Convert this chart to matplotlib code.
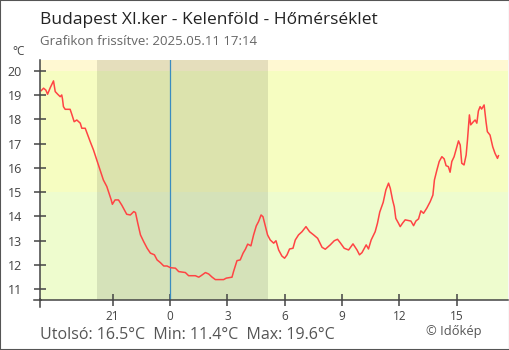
import numpy as np
import matplotlib
matplotlib.use('Agg')
import matplotlib.pyplot as plt
from matplotlib.patches import Rectangle
from matplotlib.lines import Line2D

plt.rcParams['font.family'] = ['Open Sans', 'DejaVu Sans']

# Idő (óra, éjfélhez képest) és hőmérséklet (°C)
hours = [-6.74, -6.62, -6.50, -6.41, -6.27, -6.10, -6.01, -5.88, -5.75, -5.67,
         -5.63, -5.58, -5.49, -5.23, -5.14, -5.02, -4.88, -4.70, -4.62, -4.44,
         -4.31, -4.18, -4.01, -3.84, -3.66, -3.49, -3.31, -3.19, -3.08, -3.02,
         -2.88, -2.70, -2.53, -2.39, -2.27, -2.08, -1.90, -1.81, -1.69, -1.55,
         -1.38, -1.20, -1.03, -0.82, -0.68, -0.51, -0.33, -0.16, 0.02, 0.28,
         0.45, 0.80, 0.97, 1.32, 1.50, 1.62, 1.85, 2.02, 2.20, 2.37,
         2.80, 2.94, 3.24, 3.32, 3.50, 3.67, 3.82, 3.94, 4.06, 4.23,
         4.37, 4.51, 4.63, 4.76, 4.86, 4.98, 5.10, 5.24, 5.42, 5.54,
         5.68, 5.85, 5.99, 6.12, 6.25, 6.43, 6.55, 6.72, 6.90, 7.11,
         7.30, 7.51, 7.72, 7.95, 8.12, 8.38, 8.59, 8.76, 8.90, 9.11,
         9.34, 9.57, 9.78, 9.91, 10.04, 10.26, 10.38, 10.52, 10.73, 10.85,
         10.97, 11.15, 11.29, 11.43, 11.52, 11.64, 11.73, 11.81, 11.95, 12.04,
         12.16, 12.30, 12.47, 12.60, 12.74, 12.86, 13.00, 13.12, 13.26, 13.43,
         13.61, 13.75, 13.83, 13.96, 14.08, 14.22, 14.34, 14.44, 14.56, 14.65,
         14.74, 14.86, 14.96, 15.09, 15.18, 15.26, 15.38, 15.49, 15.56, 15.66,
         15.73, 15.87, 15.96, 16.05, 16.13, 16.22, 16.30, 16.43, 16.53, 16.60,
         16.74, 16.88, 17.00, 17.13, 17.18]
temps = [19.18, 19.28, 19.20, 19.03, 19.30, 19.58, 19.14, 19.03, 18.93, 19.00,
         18.84, 18.52, 18.41, 18.41, 18.20, 17.90, 17.97, 17.84, 17.63, 17.63,
         17.35, 17.08, 16.74, 16.33, 15.91, 15.50, 15.23, 14.95, 14.68, 14.50,
         14.68, 14.68, 14.47, 14.27, 14.09, 14.06, 14.20, 14.16, 13.72, 13.24,
         12.96, 12.69, 12.49, 12.42, 12.21, 12.10, 11.96, 11.96, 11.89, 11.87,
         11.73, 11.69, 11.56, 11.56, 11.50, 11.56, 11.69, 11.63, 11.50, 11.40,
         11.40, 11.46, 11.50, 11.73, 12.18, 12.21, 12.49, 12.65, 12.86, 12.79,
         13.24, 13.61, 13.79, 14.06, 13.99, 13.62, 13.24, 13.03, 12.90, 13.00,
         12.62, 12.37, 12.28, 12.42, 12.66, 12.69, 13.03, 13.24, 13.37, 13.58,
         13.37, 13.24, 13.10, 12.73, 12.65, 12.83, 13.00, 13.06, 12.92, 12.69,
         12.62, 12.87, 12.62, 12.42, 12.51, 12.83, 12.66, 13.03, 13.37, 13.72,
         14.18, 14.58, 15.09, 15.37, 15.16, 14.68, 14.40, 13.92, 13.72, 13.58,
         13.72, 13.86, 13.83, 13.81, 13.62, 13.81, 13.90, 14.23, 14.13, 14.34,
         14.61, 14.88, 15.50, 15.91, 16.26, 16.46, 16.37, 16.09, 16.05, 15.82,
         16.26, 16.46, 16.74, 17.11, 16.94, 16.19, 16.12, 16.53, 17.15, 18.18,
         17.77, 17.90, 17.97, 17.84, 18.34, 18.52, 18.42, 18.59, 17.90, 17.49,
         17.35, 16.87, 16.60, 16.39, 16.50]

xtick_pos = [-3, 0, 3, 6, 9, 12, 15]
xtick_labels = ['21', '0', '3', '6', '9', '12', '15']
yticks = [11, 12, 13, 14, 15, 16, 17, 18, 19, 20]

sunset, sunrise = -3.85, 5.14
xmin, xmax = -6.78, 17.68
ymin, ymax = 10.56, 20.44

W, H = 510, 350
fig = plt.figure(figsize=(W / 100, H / 100), dpi=100)
ax = fig.add_axes([40.5 / W, 50 / H, 467.5 / W, 240 / H])

# Háttérsávok
ax.axhspan(20, ymax, color='#fff8d2', lw=0)
ax.axhspan(15, 20, color='#f6fdc1', lw=0)
ax.axhspan(ymin, 15, color='#eefcce', lw=0)
ax.axvspan(sunset, sunrise, color='#000000', alpha=0.1, lw=0)
ax.axvline(0, color='#3a8cc0', lw=0.9)

ax.plot(hours, temps, color='#ff4444', lw=1.1)

ax.set_xlim(xmin, xmax)
ax.set_ylim(ymin, ymax)
ax.set_xticks(xtick_pos)
ax.set_xticklabels(xtick_labels)
ax.set_yticks(yticks)
ax.tick_params(axis='both', direction='inout', length=8.9, width=1.1,
               color='#444444', labelcolor='#444444')
ax.tick_params(axis='y', labelsize=9, pad=9)
ax.tick_params(axis='x', labelsize=8.5, pad=3)
for s in ['top', 'right']:
    ax.spines[s].set_visible(False)
for s in ['left', 'bottom']:
    ax.spines[s].set_color('#444444')
    ax.spines[s].set_linewidth(1.1)

# tengelyek sarkának kilógó végei
fig.add_artist(Line2D([34 / W, 41 / W], [50 / H, 50 / H], color='#444444', lw=1.1))
fig.add_artist(Line2D([40.5 / W, 40.5 / W], [43.5 / H, 51 / H], color='#444444', lw=1.1))

fig.text(40 / W, 1 - 24 / H, 'Budapest XI.ker - Kelenföld - Hőmérséklet',
         fontsize=12.5, color='#222222', va='baseline')
fig.text(40 / W, 1 - 45 / H, 'Grafikon frissítve: 2025.05.11 17:14',
         fontsize=9.5, color='#666666', va='baseline')
fig.text(12 / W, 1 - 55 / H, '°C', fontsize=8.5, color='#444444', va='baseline')
fig.text(40 / W, 1 - 339 / H, 'Utolsó: 16.5°C  Min: 11.4°C  Max: 19.6°C',
         fontsize=11.5, color='#555555', va='baseline')
fig.text(482 / W, 1 - 335 / H, '© Időkép', fontsize=9.3, color='#555555',
         va='baseline', ha='right')

fig.patches.append(Rectangle((0, 0), 1, 1, transform=fig.transFigure,
                             fill=False, edgecolor='#555555', lw=1.5))

fig.savefig('out.png', dpi=100)
